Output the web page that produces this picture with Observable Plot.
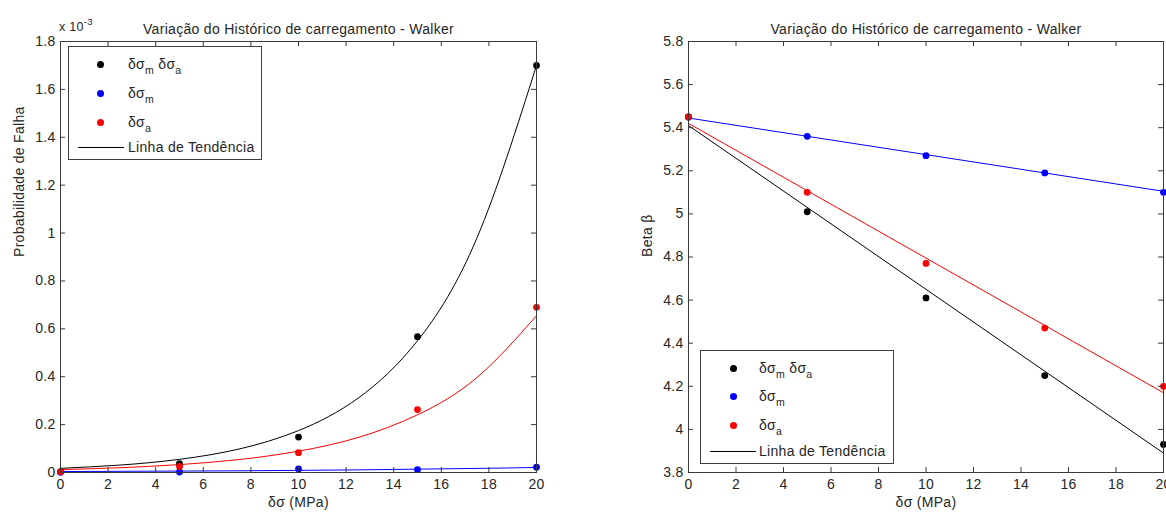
<!DOCTYPE html>
<html>
<head>
<meta charset="utf-8">
<script src="https://cdn.jsdelivr.net/npm/d3@7"></script>
<script src="https://cdn.jsdelivr.net/npm/@observablehq/plot@0.6"></script>
<style>
  body { margin: 0; background: #fff; }
  #fig { position: relative; width: 1166px; height: 514px; overflow: hidden;
         font-family: "Liberation Sans", Arial, sans-serif; color: #262626; letter-spacing: 0.3px; }
  .panel { position: absolute; top: 0; }
  .panel svg { overflow: visible; }
  .legend { position: absolute; border: 1px solid #404040; background: #fff; font-size: 14px; }
  .legend .mk { position: absolute; width: 7px; height: 7px; border-radius: 50%; margin: -3.5px 0 0 -3.5px; }
  .legend .tx { position: absolute; line-height: 14px; margin-top: -7px; white-space: nowrap; }
  .legend .tx sub { font-size: 10.5px; vertical-align: -5px; line-height: 0; }
  .legend .ln { position: absolute; height: 0; border-top: 1px solid #000; }
  .expo { position: absolute; left: 59px; top: 20px; font-size: 12.5px; line-height: 14px; }
  .expo sup { font-size: 9.5px; vertical-align: 6px; line-height: 0; }
</style>
</head>
<body>
<div id="fig">
  <div class="panel" id="left"></div>
  <div class="panel" id="right" style="left:620px"></div>
  <div class="expo">x 10<sup>-3</sup></div>
</div>
<script>
// Load amplitude δσ (MPa) at which each case was evaluated
const stress = [0, 5, 10, 15, 20];

// Probability of failure (×10^-3) for each loading history
const pfBoth = [0.004, 0.037, 0.148, 0.567, 1.700];   // δσm δσa
const pfMean = [0.001, 0.002, 0.015, 0.012, 0.022];   // δσm
const pfAmp  = [0.003, 0.025, 0.083, 0.263, 0.690];   // δσa

// Exponential trend lines of the failure probability, sampled along δσ
const trendStress = [0, 2.5, 5, 7.5, 10, 12.5, 15, 17.5, 20];
const pfTrendBoth = [0.0175, 0.031, 0.055, 0.098, 0.175, 0.31, 0.55, 0.98, 1.70];
const pfTrendMean = [0.004, 0.005, 0.006, 0.007, 0.009, 0.011, 0.014, 0.017, 0.021];
const pfTrendAmp  = [0.012, 0.020, 0.033, 0.054, 0.089, 0.146, 0.241, 0.397, 0.655];

// Reliability index β for each loading history
const betaBoth = [5.45, 5.01, 4.61, 4.25, 3.93];
const betaMean = [5.45, 5.36, 5.27, 5.19, 5.10];
const betaAmp  = [5.45, 5.10, 4.77, 4.47, 4.20];

// Linear trend lines of β (end points)
const lineStress = [0, 20];
const betaTrendBoth = [5.41, 3.89];
const betaTrendMean = [5.445, 5.105];
const betaTrendAmp  = [5.42, 4.17];

// Axis ticks
const xTicks = [0, 2, 4, 6, 8, 10, 12, 14, 16, 18, 20];
const pfTicks = [0, 0.2, 0.4, 0.6, 0.8, 1, 1.2, 1.4, 1.6, 1.8];
const betaTicks = [3.8, 4, 4.2, 4.4, 4.6, 4.8, 5, 5.2, 5.4, 5.6, 5.8];

const title = "Variação do Histórico de carregamento - Walker";
const xLabel = "δσ (MPa)";
const colors = {both: "#000000", mean: "#0000ff", amp: "#ff0000"};

const pts = (xs, ys) => xs.map((x, i) => ({x, y: ys[i]}));

const H = 514, MT = 41, MB = 42, TICK = 5, FS = 14;

function panel({width, marginLeft, marginRight, yDomain, yTicks, yLabel, series}) {
  const plotW = width - marginLeft - marginRight;
  const plotH = H - MT - MB;
  const marks = [];
  // trend lines first, markers on top
  for (const s of series) {
    marks.push(Plot.line(pts(s.tx, s.ty), {x: "x", y: "y", stroke: s.color, strokeWidth: 1, curve: s.curve}));
  }
  for (const s of series) {
    marks.push(Plot.dot(pts(stress, s.y), {x: "x", y: "y", fill: s.color, r: 3.4}));
  }
  marks.push(
    Plot.frame({stroke: "#3a3a3a", strokeWidth: 1}),
    // inward ticks on all four sides
    Plot.ruleX(xTicks, {x: d => d, insetTop: plotH - TICK, stroke: "#3a3a3a"}),
    Plot.ruleX(xTicks, {x: d => d, insetBottom: plotH - TICK, stroke: "#3a3a3a"}),
    Plot.ruleY(yTicks, {y: d => d, insetRight: plotW - TICK, stroke: "#3a3a3a"}),
    Plot.ruleY(yTicks, {y: d => d, insetLeft: plotW - TICK, stroke: "#3a3a3a"}),
    Plot.axisX(xTicks, {tickSize: 0, tickPadding: 7, tickFormat: d => String(d), label: null, fontSize: FS}),
    Plot.axisY(yTicks, {tickSize: 0, tickPadding: 5, tickFormat: d => String(d), label: null, fontSize: FS}),
    Plot.text([title], {text: d => d, frameAnchor: "top", dy: -17, fontSize: FS}),
    Plot.text([xLabel], {text: d => d, frameAnchor: "bottom", dy: 34, fontSize: FS}),
    Plot.text([yLabel], {text: d => d, frameAnchor: "left", dx: -41, rotate: -90, fontSize: FS})
  );
  return Plot.plot({
    width, height: H,
    marginLeft, marginRight, marginTop: MT, marginBottom: MB,
    x: {domain: [0, 20]},
    y: {domain: yDomain},
    style: {fontFamily: "'Liberation Sans', Arial, sans-serif", fontSize: FS + "px", color: "#262626",
            background: "transparent", letterSpacing: "0.3px"},
    marks
  });
}

document.getElementById("left").append(panel({
  width: 560, marginLeft: 60, marginRight: 24,
  yDomain: [0, 1.8], yTicks: pfTicks, yLabel: "Probabilidade de Falha",
  series: [
    {y: pfBoth, tx: trendStress, ty: pfTrendBoth, color: colors.both, curve: "natural"},
    {y: pfMean, tx: trendStress, ty: pfTrendMean, color: colors.mean, curve: "natural"},
    {y: pfAmp,  tx: trendStress, ty: pfTrendAmp,  color: colors.amp,  curve: "natural"}
  ]
}));

document.getElementById("right").append(panel({
  width: 546, marginLeft: 68, marginRight: 3,
  yDomain: [3.8, 5.8], yTicks: betaTicks, yLabel: "Beta β",
  series: [
    {y: betaBoth, tx: lineStress, ty: betaTrendBoth, color: colors.both, curve: "linear"},
    {y: betaMean, tx: lineStress, ty: betaTrendMean, color: colors.mean, curve: "linear"},
    {y: betaAmp,  tx: lineStress, ty: betaTrendAmp,  color: colors.amp,  curve: "linear"}
  ]
}));

// Legends drawn over each axes box
const legendItems = [
  {html: "δσ<sub>m</sub> δσ<sub>a</sub>", color: colors.both},
  {html: "δσ<sub>m</sub>", color: colors.mean},
  {html: "δσ<sub>a</sub>", color: colors.amp}
];
function legend({left, top, width, height, mx, rows, lineY, line0, line1, tx}) {
  const box = document.createElement("div");
  box.className = "legend";
  Object.assign(box.style, {left: left + "px", top: top + "px", width: width + "px", height: height + "px"});
  legendItems.forEach((it, i) => {
    const m = document.createElement("div");
    m.className = "mk";
    Object.assign(m.style, {left: mx + "px", top: rows[i] + "px", background: it.color});
    const t = document.createElement("div");
    t.className = "tx";
    t.innerHTML = it.html;
    Object.assign(t.style, {left: tx + "px", top: rows[i] + "px"});
    box.append(m, t);
  });
  const ln = document.createElement("div");
  ln.className = "ln";
  Object.assign(ln.style, {left: line0 + "px", width: (line1 - line0) + "px", top: lineY + "px"});
  const lt = document.createElement("div");
  lt.className = "tx";
  lt.textContent = "Linha de Tendência";
  Object.assign(lt.style, {left: tx + "px", top: lineY + "px"});
  box.append(ln, lt);
  document.getElementById("fig").append(box);
}
legend({left: 68, top: 46, width: 192, height: 112, mx: 31, rows: [17, 46, 75], lineY: 100, line0: 9, line1: 55, tx: 59});
legend({left: 700, top: 350, width: 192, height: 112, mx: 32, rows: [17, 45, 74], lineY: 100, line0: 9, line1: 55, tx: 58});
</script>
</body>
</html>
